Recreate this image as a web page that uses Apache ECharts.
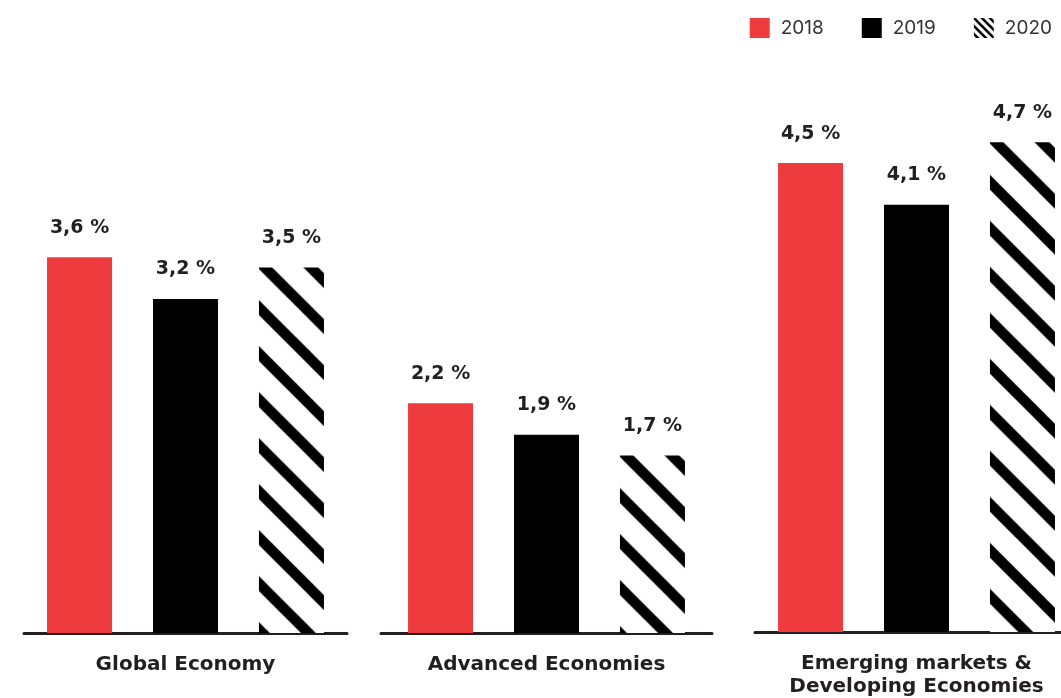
<!DOCTYPE html>
<html>
<head>
<meta charset="utf-8">
<script src="https://cdn.jsdelivr.net/npm/echarts@6/dist/echarts.min.js"></script>
<style>
  html, body { margin: 0; padding: 0; background: #ffffff; overflow: hidden; }
  #chart { width: 1080px; height: 698px; }
</style>
</head>
<body>
<div id="chart"></div>
<script>
// ---- data ----
const groups = ['Global Economy', 'Advanced Economies', 'Emerging markets &\nDeveloping Economies'];
const years = ['2018', '2019', '2020'];
const v2018 = [3.6, 2.2, 4.5];
const v2019 = [3.2, 1.9, 4.1];
const v2020 = [3.5, 1.7, 4.7];

// ---- hatch pattern for 2020 ----
function makeHatch(P, lw) {
  const c = document.createElement('canvas');
  c.width = P; c.height = P;
  const ctx = c.getContext('2d');
  ctx.fillStyle = '#ffffff';
  ctx.fillRect(0, 0, P, P);
  ctx.strokeStyle = '#000000';
  ctx.lineWidth = lw;
  for (const x0 of [-P, 0, P]) {
    ctx.beginPath();
    ctx.moveTo(x0 - 10, -10);
    ctx.lineTo(x0 + P + 10, P + 10);
    ctx.stroke();
  }
  return c;
}
const hatchImg = makeHatch(46, 10.5);
const hatch = { image: hatchImg, repeat: 'repeat' };
const hatchSmall = { image: makeHatch(8, 2.6), repeat: 'repeat' };

const colors = ['#ee3b3d', '#000000', hatch];
const valuesByYear = [v2018, v2019, v2020];

const FONT = '"DejaVu Sans", Inter, sans-serif';
const grids = [
  { left: 24, width: 323, top: 111, height: 522 },
  { left: 381, width: 331, top: 111, height: 522 },
  { left: 755, width: 323, top: 111, height: 522 }
];

const xAxes = groups.map((g, i) => ({
  type: 'category',
  gridIndex: i,
  data: [g],
  axisLine: { lineStyle: { color: '#231f20', width: 3 } },
  axisTick: { show: false },
  axisLabel: {
    color: '#231f20', fontSize: 20, fontWeight: 'bold', fontFamily: FONT,
    margin: 20, lineHeight: 23, interval: 0
  }
}));
const yAxes = groups.map((g, i) => ({
  type: 'value', gridIndex: i, min: 0, max: 5, show: false,
  splitLine: { show: false }
}));

const series = [];
years.forEach((y, yi) => {
  groups.forEach((g, gi) => {
    series.push({
      name: y,
      type: 'bar',
      xAxisIndex: gi,
      yAxisIndex: gi,
      data: [valuesByYear[yi][gi]],
      barWidth: 65,
      barGap: '63%',
      itemStyle: { color: colors[yi] },
      label: {
        show: true, position: 'top', distance: 20,
        color: '#231f20', fontSize: 19, fontWeight: 'bold', fontFamily: FONT,
        formatter: p => String(p.value).replace('.', ',') + ' %'
      }
    });
  });
});

const chart = echarts.init(document.getElementById('chart'), null, { renderer: 'canvas' });
const option = {
  animation: false,
  backgroundColor: '#ffffff',
  legend: {
    data: [
      { name: years[0] },
      { name: years[1] },
      { name: years[2], itemStyle: { color: hatchSmall } }
    ],
    right: 23, top: 13,
    icon: 'rect',
    itemWidth: 20, itemHeight: 20, itemGap: 38,
    textStyle: { color: '#333333', fontSize: 19, fontFamily: 'Inter, sans-serif', padding: [0, 0, 0, 6] }
  },
  grid: grids,
  xAxis: xAxes,
  yAxis: yAxes,
  series: series
};
chart.setOption(option);

// anchor the hatch pattern to each hatched bar's top-left corner
try {
  const model = chart.getModel();
  series.forEach((s, si) => {
    if (s.name !== years[2]) return;
    const lay = model.getSeriesByIndex(si).getData().getItemLayout(0);
    if (!lay) return;
    const top = lay.height < 0 ? lay.y + lay.height : lay.y;
    const left = lay.width < 0 ? lay.x + lay.width : lay.x;
    s.itemStyle = { color: { image: hatchImg, repeat: 'repeat', x: left + 6, y: top } };
  });
  chart.setOption({ series: series });
} catch (e) { /* keep default anchoring */ }
</script>
</body>
</html>
